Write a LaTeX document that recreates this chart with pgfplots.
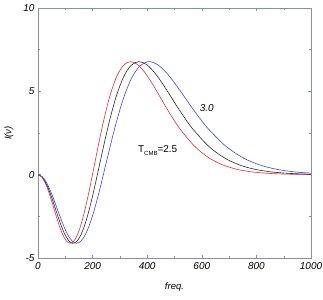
\documentclass[border=0pt]{standalone}
\usepackage{fontspec}
\setmainfont{Liberation Sans}
\usepackage{pgfplots}
\pgfplotsset{compat=1.18}
\definecolor{cred}{RGB}{230,40,60}
\definecolor{cblue}{RGB}{60,70,225}
\definecolor{cblk}{RGB}{40,40,40}
\definecolor{frame}{RGB}{135,145,150}
\begin{document}
\begin{tikzpicture}
\begin{axis}[
  at={(0,0)}, anchor=south west,
  scale only axis, width=273pt, height=250pt,
  xmin=0, xmax=1000, ymin=-5, ymax=10,
  xtick={0,200,400,600,800,1000}, ytick={-5,0,5,10},
  minor x tick num=1, minor y tick num=1,
  tick align=inside, tick pos=both,
  axis line style={frame}, every tick/.style={frame},
  major tick length=3pt, minor tick length=2.2pt,
  /pgf/number format/assume math mode=true,
  /pgf/number format/1000 sep={},
  ticklabel style={font=\fontsize{10}{12}\selectfont\itshape},
  xticklabel style={yshift=-1pt},
  clip=true,
]
\addplot[cred, line width=0.6pt, smooth] coordinates {
(0,0) (13.02,-0.124) (26.05,-0.480) (39.07,-1.024) (52.09,-1.690) (65.12,-2.399) (78.14,-3.066) (91.16,-3.614) (104.18,-3.979) (117.21,-4.117) (130.23,-4.007) (143.25,-3.648) (156.28,-3.062) (169.30,-2.284) (182.32,-1.359) (195.35,-0.338) (208.37,0.726) (234.41,2.800) (260.46,4.558) (286.51,5.826) (312.55,6.553) (338.60,6.782) (364.64,6.608) (390.69,6.146) (416.74,5.507) (442.78,4.785) (468.83,4.051) (494.87,3.355) (520.92,2.725) (573.01,1.712) (625.10,1.019) (677.20,0.581) (729.29,0.319) (781.38,0.170) (833.47,0.0885) (885.56,0.0450) (937.66,0.0224) (1015.79,0.0076)
};
\addplot[cblk, line width=0.6pt, smooth] coordinates {
(0,0) (14.20,-0.124) (28.39,-0.480) (42.59,-1.024) (56.78,-1.690) (70.98,-2.399) (85.17,-3.066) (99.37,-3.614) (113.56,-3.979) (127.76,-4.117) (141.95,-4.007) (156.15,-3.648) (170.34,-3.062) (184.54,-2.284) (198.73,-1.359) (212.93,-0.338) (227.12,0.726) (255.51,2.800) (283.90,4.558) (312.29,5.826) (340.68,6.553) (369.07,6.782) (397.46,6.608) (425.85,6.146) (454.24,5.507) (482.63,4.785) (511.02,4.051) (539.41,3.355) (567.80,2.725) (624.58,1.712) (681.36,1.019) (738.14,0.581) (794.92,0.319) (851.70,0.170) (908.48,0.0885) (965.26,0.0450) (1022.04,0.0224)
};
\addplot[cblue, line width=0.6pt, smooth] coordinates {
(0,0) (15.63,-0.124) (31.26,-0.480) (46.88,-1.024) (62.51,-1.690) (78.14,-2.399) (93.77,-3.066) (109.39,-3.614) (125.02,-3.979) (140.65,-4.117) (156.28,-4.007) (171.90,-3.648) (187.53,-3.062) (203.16,-2.284) (218.79,-1.359) (234.41,-0.338) (250.04,0.726) (281.30,2.800) (312.55,4.558) (343.81,5.826) (375.06,6.553) (406.32,6.782) (437.57,6.608) (468.83,6.146) (500.08,5.507) (531.34,4.785) (562.59,4.051) (593.85,3.355) (625.10,2.725) (687.61,1.712) (750.12,1.019) (812.63,0.581) (875.14,0.319) (937.65,0.170) (1000.16,0.0885) (1062.67,0.0450)
};
\node[anchor=west, inner sep=0pt, font=\fontsize{10}{12}\selectfont\itshape] at (axis cs:592,4.0) {3.0};
\node[anchor=west, inner sep=0pt, font=\fontsize{10}{12}\selectfont] at (axis cs:366,1.45) {T\raisebox{-0.5ex}{\fontsize{6}{7}\selectfont CMB}=2.5};
\end{axis}
\node[font=\fontsize{9.5}{11}\selectfont\itshape] at (136.5pt,-29pt) {freq.};
\node[rotate=90, font=\fontsize{9.5}{11}\selectfont\itshape] at (-29pt,125pt) {I(ν)};
\pgfresetboundingbox
\path[use as bounding box] (-38pt,-41pt) rectangle (285pt,258pt);
\end{tikzpicture}
\end{document}
